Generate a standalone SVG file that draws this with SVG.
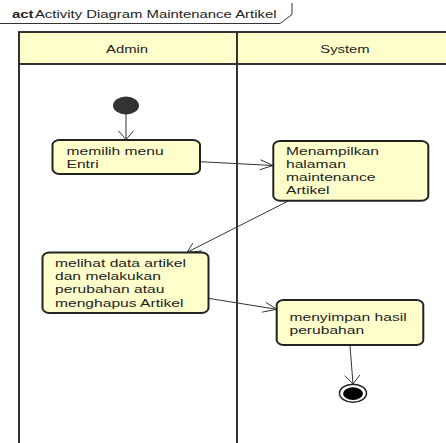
<svg xmlns="http://www.w3.org/2000/svg" width="446" height="443" viewBox="0 0 446 443">
<style>
  .lane { fill: none; stroke: #333; stroke-width: 2; }
  .hdr { fill: #FFFFCC; stroke: #333; stroke-width: 2; }
  .act { fill: #FFFFCC; stroke: #222; stroke-width: 2; }
  .txt { font-family: "Liberation Sans", Arial, sans-serif; font-size: 11px; fill: #222; }
  .ttl { font-family: "Liberation Sans", Arial, sans-serif; font-size: 10.5px; fill: #222; }
  .edge { fill: none; stroke: #333; stroke-width: 1; }
  .frame { fill: none; stroke: #333; stroke-width: 1; }
</style>
<rect width="446" height="443" fill="#fff"/>

<g id="frame">
  <polyline class="frame" points="0,23.5 280,23.5 292,14.5 292,3"/>
  <text class="ttl" transform="translate(12,17.5) scale(1.42,1)"><tspan font-weight="bold">act</tspan><tspan dx="1">Activity Diagram Maintenance Artikel</tspan></text>
</g>

<g id="swimlanes">
  <rect class="hdr" x="19" y="32" width="432" height="32"/>
  <line class="lane" x1="19" y1="32" x2="19" y2="445"/>
  <line class="lane" x1="237" y1="32" x2="237" y2="445" stroke-width="2.5"/>
  <text class="txt" text-anchor="middle" transform="translate(127,53) scale(1.35,1)">Admin</text>
  <text class="txt" text-anchor="middle" transform="translate(345,53) scale(1.35,1)">System</text>
</g>

<g id="connectors">
  <line class="edge" x1="126" y1="114" x2="126" y2="139.5"/>
  <polyline class="edge" points="118.5,130.8 126,139.5 133.5,130.8"/>
  <line class="edge" x1="200" y1="161.7" x2="273" y2="165.5"/>
  <polyline class="edge" points="260.6,159.8 273,165.5 259.5,169.8"/>
  <line class="edge" x1="288.3" y1="201" x2="187" y2="252.3"/>
  <polyline class="edge" points="201.9,251 187,252.3 192.8,243.1"/>
  <line class="edge" x1="208.3" y1="298.3" x2="276.7" y2="309.3"/>
  <polyline class="edge" points="265.8,302.4 276.7,309.3 262.3,312.1"/>
  <line class="edge" x1="350" y1="345.5" x2="353" y2="384"/>
  <polyline class="edge" points="359.8,375.1 353,384 344.8,375.6"/>
</g>

<g id="start">
  <ellipse cx="126" cy="105.5" rx="13" ry="9" fill="#333"/>
</g>

<g id="memilih-menu-entri">
  <rect class="act" x="52.5" y="140" width="147.5" height="34" rx="7" ry="5"/>
  <text class="txt" transform="translate(66.5,0) scale(1.42,1)"><tspan x="0" y="155">memilih menu</tspan><tspan x="0" y="167.7">Entri</tspan></text>
</g>

<g id="menampilkan-halaman">
  <rect class="act" x="273.3" y="141" width="155" height="59.7" rx="7" ry="5"/>
  <text class="txt" transform="translate(286,0) scale(1.42,1)"><tspan x="0" y="155">Menampilkan</tspan><tspan x="0" y="168">halaman</tspan><tspan x="0" y="181">maintenance</tspan><tspan x="0" y="194">Artikel</tspan></text>
</g>

<g id="melihat-data-artikel">
  <rect class="act" x="42.5" y="252.5" width="166" height="60.5" rx="7" ry="5"/>
  <text class="txt" transform="translate(55,0) scale(1.42,1)"><tspan x="0" y="267.3">melihat data artikel</tspan><tspan x="0" y="280.3">dan melakukan</tspan><tspan x="0" y="293.5">perubahan atau</tspan><tspan x="0" y="306.6">menghapus Artikel</tspan></text>
</g>

<g id="menyimpan-hasil">
  <rect class="act" x="276.7" y="300" width="146.6" height="45" rx="7" ry="5"/>
  <text class="txt" transform="translate(289.5,0) scale(1.42,1)"><tspan x="0" y="320.7">menyimpan hasil</tspan><tspan x="0" y="334">perubahan</tspan></text>
</g>

<g id="end">
  <ellipse cx="353" cy="393.3" rx="13.5" ry="9" fill="#fff" stroke="#222" stroke-width="1.5"/>
  <ellipse cx="353" cy="393.6" rx="10" ry="6.3" fill="#000"/>
</g>
</svg>
